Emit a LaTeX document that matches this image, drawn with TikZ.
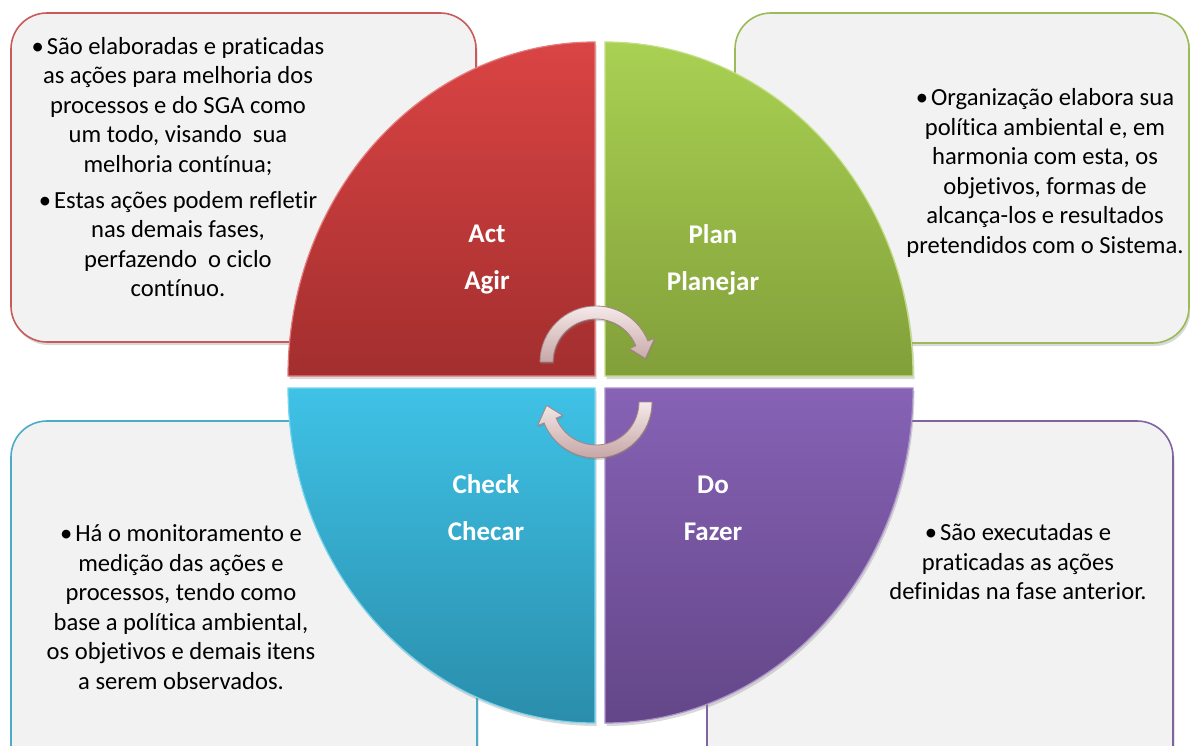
\documentclass[tikz,border=0pt]{standalone}
\usepackage{fontspec}
\setmainfont[Ligatures=NoCommon]{Carlito}
\usetikzlibrary{shadows}
\definecolor{boxfill}{HTML}{F2F2F2}
\definecolor{redT}{HTML}{DA4444}
\definecolor{redB}{HTML}{A32E2E}
\definecolor{greenT}{HTML}{A9D152}
\definecolor{greenB}{HTML}{829F3A}
\definecolor{cyanT}{HTML}{3FC2E6}
\definecolor{cyanB}{HTML}{2A8DAB}
\definecolor{purT}{HTML}{8762B5}
\definecolor{purB}{HTML}{634688}
\definecolor{redLine}{HTML}{C9595A}
\definecolor{greenLine}{HTML}{9BBB59}
\definecolor{cyanLine}{HTML}{4BACC6}
\definecolor{purLine}{HTML}{8064A2}
\definecolor{arrL}{HTML}{F5E9E9}
\definecolor{arrD}{HTML}{C7A6A6}
\definecolor{arrEdge}{HTML}{A58484}
\begin{document}
\begin{tikzpicture}[x=1pt,y=1pt,
  infobox/.style={rounded corners=36pt, fill=boxfill, line width=1.6pt,
    drop shadow={opacity=0.3, shadow xshift=1.5pt, shadow yshift=-3pt}},
  quad/.style={line width=1.2pt,
    drop shadow={opacity=0.3, shadow xshift=1.5pt, shadow yshift=-3pt}},
  bodytext/.style={font=\fontsize{24.6}{29.5}\selectfont, align=center, inner sep=0pt, text=black},
  labeltext/.style={font=\bfseries\fontsize{27}{47}\selectfont, align=center, inner sep=0pt, text=white},
  cyclearrow/.style={top color=arrL, bottom color=arrD, draw=arrEdge, line width=0.8pt,
    drop shadow={opacity=0.3, shadow xshift=1pt, shadow yshift=-2pt}}
]
\useasboundingbox (0,0) rectangle (1190,-746);
\clip (0,0) rectangle (1190,-746);

% text boxes
\path[infobox, draw=redLine] (11,-13) rectangle (476,-342);
\path[infobox, draw=greenLine] (735,-13) rectangle (1189,-343);
\path[infobox, draw=cyanLine] (11,-421) rectangle (477,-790);
\path[infobox, draw=purLine] (707,-421) rectangle (1173,-790);

% quadrants
\path[quad, top color=redT, bottom color=redB, draw=redT!70!white]
  (595,-376) -- (288,-376) arc[start angle=180, end angle=90, x radius=307, y radius=334] -- cycle;
\path[quad, top color=greenT, bottom color=greenB, draw=greenT!70!white]
  (605,-376) -- (605,-42) arc[start angle=90, end angle=0, x radius=308, y radius=334] -- cycle;
\path[quad, top color=cyanT, bottom color=cyanB, draw=cyanT!70!white]
  (595,-388) -- (288,-388) arc[start angle=180, end angle=270, x radius=307, y radius=335] -- cycle;
\path[quad, top color=purT, bottom color=purB, draw=purT!70!white]
  (605,-388) -- (913,-388) arc[start angle=0, end angle=-90, x radius=308, y radius=335] -- cycle;

% cycle arrows
\begin{scope}[shift={(596,-362)}]
\path[cyclearrow] (180:56) arc[start angle=180, end angle=22, radius=56] -- (22:63) -- (4:49.5)
  -- (22:36) -- (22:43) arc[start angle=22, end angle=180, radius=43] -- cycle;
\end{scope}
\begin{scope}[shift={(596,-402)}]
\path[cyclearrow] (0:56) arc[start angle=0, end angle=-158, radius=56] -- (-158:63) -- (-176:49.5)
  -- (-158:36) -- (-158:43) arc[start angle=-158, end angle=0, radius=43] -- cycle;
\end{scope}

% labels
\node[labeltext] (act) at (487,-260) {Act\\Agir};
\node[labeltext] (plan) at (713,-260) {Plan\\Planejar};
\node[labeltext] (check) at (486,-508) {Check\\Checar};
\node[labeltext] (do) at (713,-508) {Do\\Fazer};

% body texts
\node[bodytext] (tltext) at (178,-167) {•\hspace{3pt}São elaboradas e praticadas\\
as ações para melhoria dos\\
processos e do SGA como\\
um todo, visando\ \ sua\\
melhoria contínua;\\[6.5pt]
•\hspace{3pt}Estas ações podem refletir\\
nas demais fases,\\
perfazendo\ \ o ciclo\\
contínuo.};
\node[bodytext] (trtext) at (1045,-173) {•\hspace{3pt}Organização elabora sua\\
política ambiental e, em\\
harmonia com esta, os\\
objetivos, formas de\\
alcança-los e resultados\\
pretendidos com o Sistema.};
\node[bodytext] (bltext) at (181,-607) {•\hspace{3pt}Há o monitoramento e\\
medição das ações e\\
processos, tendo como\\
base a política ambiental,\\
os objetivos e demais itens\\
a serem observados.};
\node[bodytext] (brtext) at (1018,-562) {•\hspace{3pt}São executadas e\\
praticadas as ações\\
definidas na fase anterior.};
\end{tikzpicture}
\end{document}
